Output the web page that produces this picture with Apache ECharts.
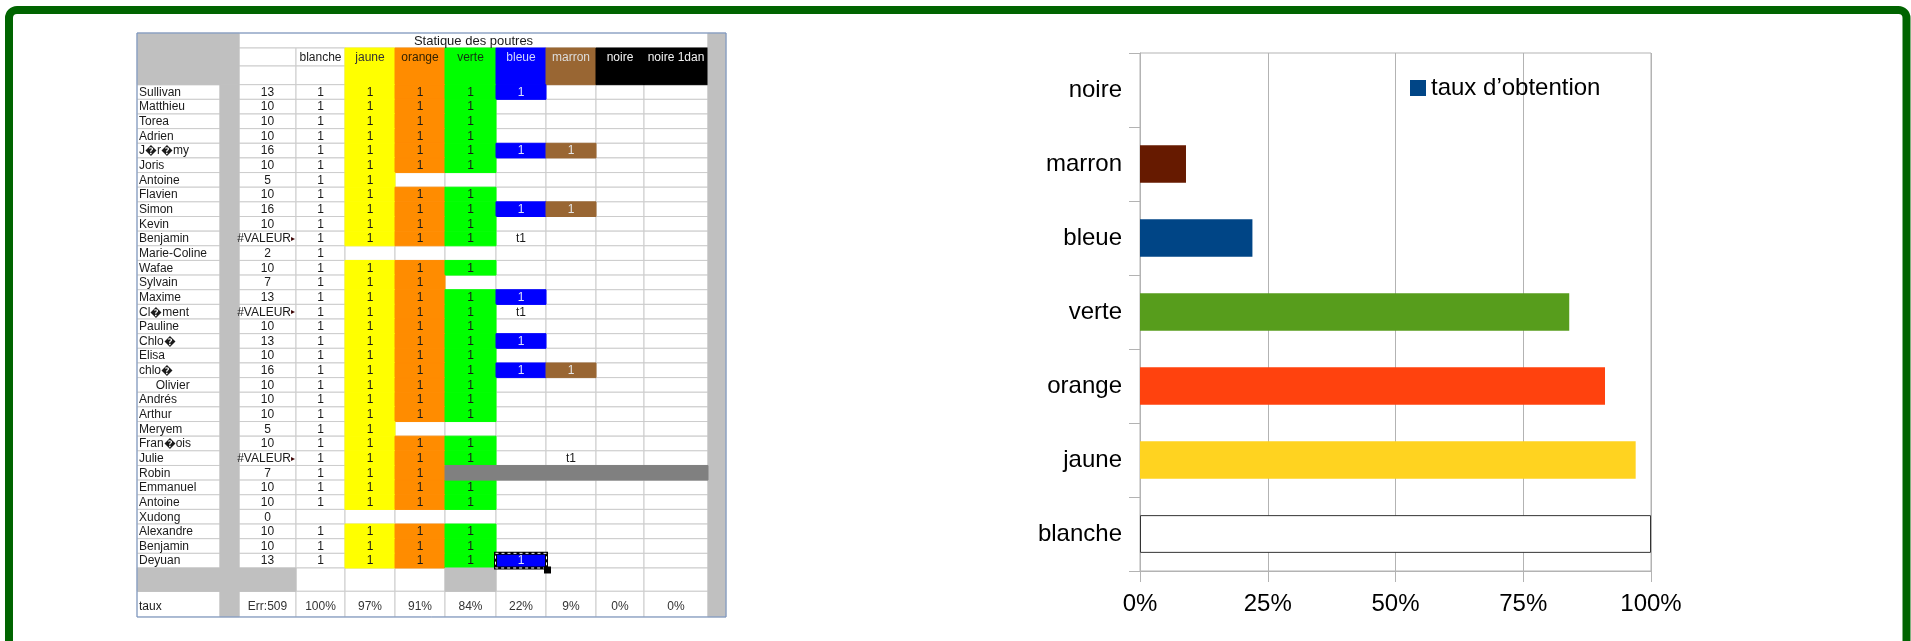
<!DOCTYPE html>
<html><head><meta charset="utf-8">
<script src="https://cdn.jsdelivr.net/npm/echarts@6/dist/echarts.min.js"></script>
<style>html,body{margin:0;padding:0;background:#fff}#c{width:1911px;height:641px}</style>
</head><body><div id="c"></div>
<script>
// ---------------- DATA ----------------
const sheetTitle = 'Statique des poutres';
const beltHeaders = ['blanche','jaune','orange','verte','bleue','marron','noire','noire 1dan'];
const names = ['Sullivan','Matthieu','Torea','Adrien','J\uFFFDr\uFFFDmy','Joris','Antoine','Flavien','Simon','Kevin',
  'Benjamin','Marie-Coline','Wafae','Sylvain','Maxime','Cl\uFFFDment','Pauline','Chlo\uFFFD','Elisa','chlo\uFFFD',
  '     Olivier','Andrés','Arthur','Meryem','Fran\uFFFDois','Julie','Robin','Emmanuel','Antoine','Xudong',
  'Alexandre','Benjamin','Deyuan'];
const scores = ['13','10','10','10','16','10','5','10','16','10',
  '#VALEUR','2','10','7','13','#VALEUR','10','13','10','16',
  '10','10','10','5','10','#VALEUR','7','10','10','0',
  '10','10','13'];
// marks per pupil: blanche, jaune, orange, verte, bleue, marron, noire, noire 1dan
const beltMarks = [
  ['1','1','1','1','1','','',''],
  ['1','1','1','1','','','',''],
  ['1','1','1','1','','','',''],
  ['1','1','1','1','','','',''],
  ['1','1','1','1','1','1','',''],
  ['1','1','1','1','','','',''],
  ['1','1','','','','','',''],
  ['1','1','1','1','','','',''],
  ['1','1','1','1','1','1','',''],
  ['1','1','1','1','','','',''],
  ['1','1','1','1','t1','','',''],
  ['1','','','','','','',''],
  ['1','1','1','1','','','',''],
  ['1','1','1','','','','',''],
  ['1','1','1','1','1','','',''],
  ['1','1','1','1','t1','','',''],
  ['1','1','1','1','','','',''],
  ['1','1','1','1','1','','',''],
  ['1','1','1','1','','','',''],
  ['1','1','1','1','1','1','',''],
  ['1','1','1','1','','','',''],
  ['1','1','1','1','','','',''],
  ['1','1','1','1','','','',''],
  ['1','1','','','','','',''],
  ['1','1','1','1','','','',''],
  ['1','1','1','1','','t1','',''],
  ['1','1','1','','','','',''],
  ['1','1','1','1','','','',''],
  ['1','1','1','1','','','',''],
  ['','','','','','','',''],
  ['1','1','1','1','','','',''],
  ['1','1','1','1','','','',''],
  ['1','1','1','1','1','','','']
];
const tauxLabel = 'taux';
const tauxValues = ['Err:509','100%','97%','91%','84%','22%','9%','0%','0%'];

const chartCategories = ['blanche','jaune','orange','verte','bleue','marron','noire'];
const chartValues = [1.00, 0.97, 0.91, 0.84, 0.22, 0.09, 0.00];
const seriesName = 'taux d\u2019obtention';
const xTickLabels = ['0%','25%','50%','75%','100%'];

// ---------------- STYLE / LAYOUT ----------------
const barColors = ['#ffffff','#ffd320','#ff420e','#579d1c','#004586','#661a00','#000000'];
const beltFill = ['#ffffff','#ffff00','#ff8c00','#00ff00','#0000ff','#996633','#000000','#000000'];
const headerTextColor = ['#222','#333','#332200','#113311','#d0d6ff','#dddddd','#f2f2f2','#f2f2f2'];
const markTextColor = ['#1a1a1a','#1a1a1a','#1a1a1a','#1a1a1a','#dde4ff','#e6e6e6','#1a1a1a','#1a1a1a'];
const GRAY = '#c0c0c0', LINE = '#cccccc', WHITE = '#ffffff', DARKGRAY = '#808080';
const colWidths = [83,19,57,49,50,50,51,50,50,48,64,18];
const rowHeights = [15,18,18.7].concat(names.map(() => 14.645)).concat([23.3,25.7]);
const shadedRow = 26;            // Robin: grey band over verte..noire 1dan
const selectedCell = [32, 4];     // Deyuan / bleue (cursor)

const colEdges = [0]; colWidths.forEach(w => colEdges.push(colEdges[colEdges.length-1] + w));
const rowEdges = [0]; rowHeights.forEach(h => rowEdges.push(rowEdges[rowEdges.length-1] + h));
const NR = rowHeights.length, NC = colWidths.length;
const FIRST = 3, BLANK = FIRST + names.length, TAUX = BLANK + 1;

const cells = [];
function cell(c0, c1, r0, r1, o) { cells.push(Object.assign({c0, c1, r0, r1}, o || {})); }
function white(c0, c1, r0, r1, o) { cell(c0, c1, r0, r1, Object.assign({fill: WHITE, stroke: LINE, z: 0}, o || {})); }

// header area
cell(0, 2, 0, 3, {fill: GRAY, stroke: GRAY, z: 2});
cell(11, 12, 0, NR, {fill: GRAY, stroke: GRAY, z: 2});
cell(1, 2, 3, NR, {fill: GRAY, stroke: GRAY, z: 2});
white(2, 11, 0, 1, {text: sheetTitle, size: 13});
white(2, 3, 1, 2); white(2, 3, 2, 3);
beltHeaders.forEach((h, b) => {
  const c = 3 + b;
  if (b === 0) { white(c, c+1, 1, 2, {text: h, color: headerTextColor[b]}); white(c, c+1, 2, 3); }
  else {
    cell(c, c+1, 1, 2, {fill: beltFill[b], stroke: beltFill[b], z: 1, text: h, color: headerTextColor[b]});
    cell(c, c+1, 2, 3, {fill: beltFill[b], stroke: beltFill[b], z: 1});
  }
});
// pupils
names.forEach((n, i) => {
  const r = FIRST + i;
  white(0, 1, r, r+1, {text: n, align: 'left'});
  const s = scores[i];
  white(2, 3, r, r+1, {text: s, overflow: s.length > 4});
  beltMarks[i].forEach((m, b) => {
    const c = 3 + b;
    const colored = m === '1' && b >= 1 && b <= 5;
    const sel = selectedCell[0] === i && selectedCell[1] === b;
    if (colored) cell(c, c+1, r, r+1, {fill: beltFill[b], stroke: beltFill[b], z: 1, text: m, color: markTextColor[b], selected: sel});
    else white(c, c+1, r, r+1, {text: m, selected: sel});
  });
});
cell(6, 11, FIRST + shadedRow, FIRST + shadedRow + 1, {fill: DARKGRAY, stroke: DARKGRAY, z: 2});
// blank row
cell(0, 3, BLANK, BLANK+1, {fill: GRAY, stroke: GRAY, z: 2});
white(3, 4, BLANK, BLANK+1); white(4, 5, BLANK, BLANK+1); white(5, 6, BLANK, BLANK+1);
cell(6, 7, BLANK, BLANK+1, {fill: GRAY, stroke: GRAY, z: 2});
for (let c = 7; c < 11; c++) white(c, c+1, BLANK, BLANK+1);
// taux row
white(0, 1, TAUX, TAUX+1, {text: tauxLabel, align: 'left', dy: 2});
tauxValues.forEach((t, k) => white(2 + k, 3 + k, TAUX, TAUX+1, {text: t, color: '#333', dy: 2}));

const cellData = cells.map(o => [colEdges[o.c0], rowEdges[o.r0], colEdges[o.c1], rowEdges[o.r1]]);

function renderCell(params, api) {
  const o = cells[params.dataIndex];
  const p0 = api.coord([api.value(0), api.value(1)]);
  const p1 = api.coord([api.value(2), api.value(3)]);
  const x = Math.min(p0[0], p1[0]), y = Math.min(p0[1], p1[1]);
  const w = Math.abs(p1[0] - p0[0]), h = Math.abs(p1[1] - p0[1]);
  const ch = [{type: 'rect', z2: o.z, shape: {x: x, y: y, width: w, height: h},
    style: {fill: o.fill, stroke: o.stroke, lineWidth: 1}}];
  if (o.text) {
    const size = o.size || 12;
    let tx = x + w / 2, al = 'center';
    if (o.align === 'left') { tx = x + 2; al = 'left'; }
    if (o.overflow) { tx = x + w - 5; al = 'right'; }
    const ty = y + h / 2 + 0.5 + (o.dy || 0);
    ch.push({type: 'text', z2: 10, style: {text: o.text, x: tx, y: ty, align: al, verticalAlign: 'middle',
      textAlign: al, textVerticalAlign: 'middle', fill: o.color || '#1a1a1a', fontSize: size, fontFamily: 'Liberation Sans'}});
    if (o.overflow) {
      ch.push({type: 'text', z2: 10, style: {text: '\u25B8', x: tx, y: ty, align: 'left', verticalAlign: 'middle',
        textAlign: 'left', textVerticalAlign: 'middle', fill: '#3a0000', fontSize: 8, fontFamily: 'DejaVu Sans'}});
    }
  }
  if (o.selected) {
    ch.push({type: 'rect', z2: 12, shape: {x: x - 0.5, y: y, width: w + 1, height: h}, style: {fill: null, stroke: '#000', lineWidth: 3}});
    ch.push({type: 'rect', z2: 13, shape: {x: x - 0.5, y: y, width: w + 1, height: h}, style: {fill: null, stroke: '#fff', lineWidth: 1, lineDash: [3, 3]}});
    ch.push({type: 'rect', z2: 14, shape: {x: x + w - 2, y: y + h - 1.5, width: 7, height: 7}, style: {fill: '#000'}});
  }
  return {type: 'group', children: ch};
}

const chart = echarts.init(document.getElementById('c'), null, {renderer: 'canvas'});
const TXT = {fontFamily: 'Liberation Sans', fontSize: 24, color: '#000'};
chart.setOption({
  backgroundColor: '#ffffff',
  animation: false,
  graphic: [{type: 'rect', z: 100, shape: {x: 9, y: 10, width: 1897.5, height: 700, r: 8},
    style: {fill: null, stroke: '#006400', lineWidth: 8}}],
  legend: {data: [seriesName], left: 1405, top: 71, icon: 'rect', itemWidth: 16, itemHeight: 16,
    selectedMode: false, textStyle: TXT},
  grid: [
    {left: 1140, top: 53, width: 511, height: 518, show: true, borderColor: '#b3b3b3', borderWidth: 1},
    {left: 137, top: 33, width: colEdges[NC], height: rowEdges[NR], show: true, borderColor: '#7391c2', borderWidth: 1, z: 10}
  ],
  xAxis: [
    {type: 'value', gridIndex: 0, min: 0, max: 1, interval: 0.25,
      axisLine: {show: true, lineStyle: {color: '#b3b3b3'}},
      axisTick: {show: true, length: 11, lineStyle: {color: '#b3b3b3'}},
      splitLine: {show: true, lineStyle: {color: '#b3b3b3'}},
      axisLabel: Object.assign({margin: 21, formatter: v => xTickLabels[Math.round(v / 0.25)]}, TXT)},
    {type: 'value', gridIndex: 1, min: 0, max: colEdges[NC], show: false}
  ],
  yAxis: [
    {type: 'category', gridIndex: 0, data: chartCategories,
      axisLine: {show: true, lineStyle: {color: '#b3b3b3'}},
      axisTick: {show: true, length: 11, lineStyle: {color: '#b3b3b3'}},
      splitLine: {show: false},
      axisLabel: Object.assign({margin: 18}, TXT)},
    {type: 'value', gridIndex: 1, min: 0, max: rowEdges[NR], inverse: true, show: false}
  ],
  series: [
    {type: 'bar', name: seriesName, xAxisIndex: 0, yAxisIndex: 0, barWidth: '51%',
      itemStyle: {color: '#004586'},
      data: chartValues.map((v, i) => ({value: v, itemStyle: i === 0
        ? {color: barColors[i], borderColor: '#333333', borderWidth: 1}
        : {color: barColors[i]}}))},
    {type: 'custom', name: 'sheet', xAxisIndex: 1, yAxisIndex: 1, renderItem: renderCell,
      encode: {x: [0, 2], y: [1, 3]}, data: cellData, silent: true}
  ]
});
</script></body></html>
